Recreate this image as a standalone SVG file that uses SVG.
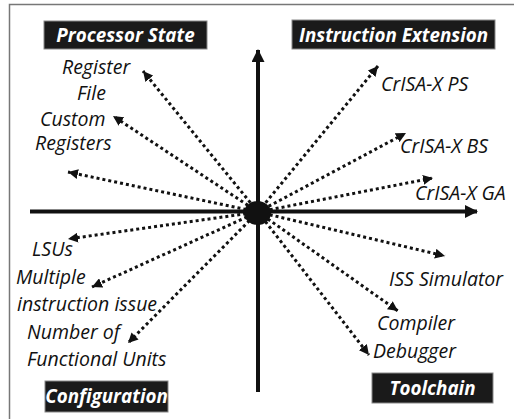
<svg xmlns="http://www.w3.org/2000/svg" width="514" height="419" viewBox="0 0 514 419">
<defs>
<style>
.lbl{font-family:"Open Sans","Liberation Sans",sans-serif;font-style:italic;font-size:19.5px;fill:#111}
.hdr{font-family:"Open Sans","Liberation Sans",sans-serif;font-style:italic;font-weight:bold;font-size:18.8px;fill:#fff;text-anchor:middle}
.box{fill:#1a1a1a;stroke:#888;stroke-width:1}
.dot{stroke:#111;stroke-width:3;stroke-dasharray:3 3;fill:none;marker-end:url(#ah)}
.axis{stroke:#111;stroke-width:4;fill:none}
</style>
<marker id="ah" markerUnits="userSpaceOnUse" markerWidth="12" markerHeight="10" refX="10" refY="5" orient="auto">
<path d="M0,0 L10,5 L0,10 Z" fill="#111"/>
</marker>
<marker id="big" markerUnits="userSpaceOnUse" markerWidth="14" markerHeight="14" refX="12" refY="6.5" orient="auto">
<path d="M0,0 L13,6.5 L0,13 Z" fill="#111"/>
</marker>
</defs>
<rect x="0" y="0" width="514" height="419" fill="#fff"/>
<path d="M9.5,419 V4.5 H514" fill="none" stroke="#777" stroke-width="1.5"/>
<g id="connectors">
<line class="axis" x1="258" y1="392" x2="258" y2="50" marker-end="url(#big)"/>
<line class="axis" x1="30" y1="211.5" x2="477" y2="211.5" marker-end="url(#big)"/>
<line class="dot" x1="258" y1="212" x2="143" y2="71"/>
<line class="dot" x1="258" y1="212" x2="113" y2="116"/>
<line class="dot" x1="258" y1="212" x2="68" y2="172"/>
<line class="dot" x1="258" y1="212" x2="378" y2="66"/>
<line class="dot" x1="258" y1="212" x2="406" y2="133"/>
<line class="dot" x1="258" y1="212" x2="433" y2="178"/>
<line class="dot" x1="258" y1="212" x2="68" y2="239"/>
<line class="dot" x1="258" y1="212" x2="92" y2="287"/>
<line class="dot" x1="258" y1="212" x2="128" y2="343"/>
<line class="dot" x1="258" y1="212" x2="445" y2="256"/>
<line class="dot" x1="258" y1="212" x2="398" y2="311"/>
<line class="dot" x1="258" y1="212" x2="369" y2="355"/>
</g>
<g id="center"><ellipse cx="257.5" cy="213" rx="13.5" ry="12" fill="#111"/></g>
<g id="processor-state"><rect class="box" x="44" y="21" width="163" height="28"/><text class="hdr" x="125.5" y="41.5">Processor State</text></g>
<g id="instruction-extension"><rect class="box" x="292" y="20" width="203" height="29"/><text class="hdr" x="393.5" y="41.5">Instruction Extension</text></g>
<g id="configuration"><rect class="box" x="45" y="381" width="123" height="31"/><text class="hdr" x="106.5" y="403">Configuration</text></g>
<g id="toolchain"><rect class="box" x="372" y="373" width="121" height="30"/><text class="hdr" x="432.5" y="394.5">Toolchain</text></g>
<g id="register-file"><text class="lbl" x="62" y="74">Register</text><text class="lbl" x="77" y="100">File</text></g>
<g id="custom-registers"><text class="lbl" x="40" y="126">Custom</text><text class="lbl" x="35" y="150">Registers</text></g>
<g id="crisa-ps"><text class="lbl" x="381" y="91">CrISA-X PS</text></g>
<g id="crisa-bs"><text class="lbl" x="400" y="153">CrISA-X BS</text></g>
<g id="crisa-ga"><text class="lbl" x="415" y="200">CrISA-X GA</text></g>
<g id="lsus"><text class="lbl" x="32" y="256">LSUs</text></g>
<g id="multiple-issue"><text class="lbl" x="16" y="284">Multiple</text><text class="lbl" x="17" y="311">instruction issue</text></g>
<g id="functional-units"><text class="lbl" x="27" y="339">Number of</text><text class="lbl" x="27" y="366">Functional Units</text></g>
<g id="iss-simulator"><text class="lbl" x="389" y="286">ISS Simulator</text></g>
<g id="compiler"><text class="lbl" x="377" y="330">Compiler</text></g>
<g id="debugger"><text class="lbl" x="373" y="358">Debugger</text></g>
</svg>
